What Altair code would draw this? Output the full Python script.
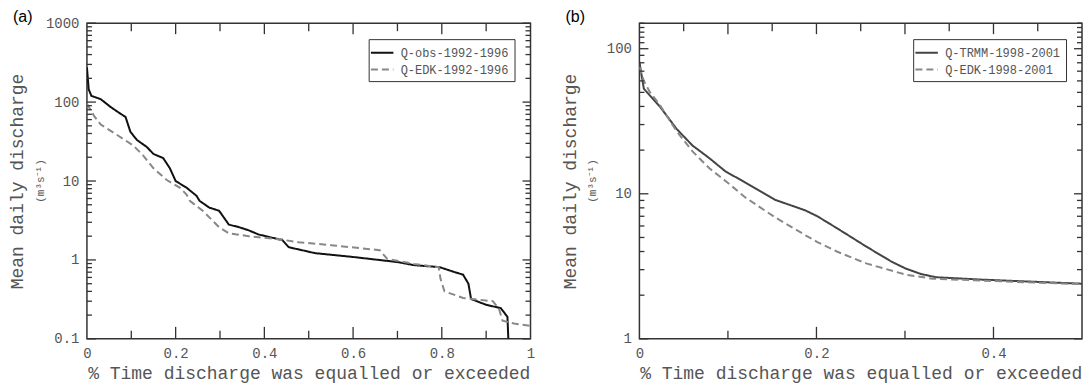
import altair as alt
import pandas as pd

# ---------------- data ----------------
# Panel (a)
a_series = ["Q-obs-1992-1996", "Q-EDK-1992-1996"]
a_obs_x = [0, 0.002, 0.004, 0.01, 0.031, 0.053, 0.076, 0.087, 0.098, 0.113, 0.135, 0.15,
           0.172, 0.187, 0.2, 0.225, 0.247, 0.254, 0.276, 0.298, 0.32, 0.343, 0.365, 0.387,
           0.432, 0.44, 0.455, 0.514, 0.60, 0.70, 0.737, 0.795, 0.826, 0.848, 0.86, 0.866,
           0.9, 0.933, 0.948, 0.95]
a_obs_y = [275, 200, 145, 120, 109, 87, 71, 65, 42, 33, 27, 22,
           19.5, 14.5, 10, 8.2, 6.5, 5.6, 4.6, 4.2, 2.8, 2.6, 2.37, 2.1,
           1.83, 1.8, 1.45, 1.22, 1.09, 0.94, 0.86, 0.81, 0.71, 0.65, 0.50, 0.32,
           0.27, 0.245, 0.19, 0.1]
a_edk_x = [0, 0.004, 0.016, 0.031, 0.069, 0.105, 0.127, 0.15, 0.18, 0.21, 0.225, 0.232,
           0.261, 0.298, 0.32, 0.365, 0.432, 0.477, 0.55, 0.66, 0.677, 0.737, 0.793, 0.797,
           0.806, 0.848, 0.915, 0.929, 0.937, 0.966, 1.0]
a_edk_y = [95, 87, 67, 52, 38, 28, 21, 14.5, 10.3, 8.2, 6.7, 5.6,
           4.2, 2.6, 2.17, 2.0, 1.83, 1.68, 1.54, 1.33, 1.03, 0.89, 0.81, 0.58,
           0.40, 0.33, 0.30, 0.24, 0.17, 0.155, 0.146]

# Panel (b)
b_series = ["Q-TRMM-1998-2001", "Q-EDK-1998-2001"]
b_trmm_x = [0, 0.005, 0.023, 0.042, 0.06, 0.079, 0.097, 0.116, 0.153, 0.187, 0.201, 0.223,
            0.257, 0.285, 0.301, 0.318, 0.335, 0.387, 0.5]
b_trmm_y = [81, 53, 40, 28, 21.5, 17.6, 14.3, 12.3, 9.1, 7.7, 7.0, 5.8,
            4.3, 3.4, 3.05, 2.8, 2.66, 2.56, 2.4]
b_edk_x = [0, 0.005, 0.012, 0.023, 0.042, 0.06, 0.079, 0.097, 0.12, 0.153, 0.187, 0.201,
           0.223, 0.257, 0.301, 0.331, 0.387, 0.5]
b_edk_y = [75, 60, 50, 41, 27, 19.6, 15, 12.3, 9.4, 6.9, 5.2, 4.65,
           4.0, 3.3, 2.77, 2.6, 2.52, 2.38]

# axis labels / ticks
a_xlabels = [0, 0.2, 0.4, 0.6, 0.8, 1]
a_ylabels = [0.1, 1, 10, 100, 1000]
b_xlabels = [0, 0.2, 0.4]
b_ylabels = [1, 10, 100]

a_xtop_long = [0.2, 0.4, 0.6, 0.8]
a_xtop_short = [0.1, 0.3, 0.5, 0.7, 0.9]
a_xbot_long = [0.2, 0.4, 0.6, 0.8]
a_xbot_short = [0.1, 0.3, 0.5, 0.7, 0.9]
b_xtop_long = [0.1, 0.2, 0.3, 0.4]
b_xtop_short = [0.05, 0.15, 0.25, 0.35, 0.45]
b_xbot_long = [0.2, 0.4]
b_xbot_short = [0.1, 0.3]

a_ymajor = [0.1, 1, 10, 100, 1000]
b_ymajor = [1, 10, 100]
minor_mult = [2, 3, 4, 5, 6, 7, 8, 9]
a_yminor = [m * d for d in [0.1, 1, 10, 100] for m in minor_mult]
b_yminor = [m * d for d in [1, 10] for m in minor_mult] + [110, 120, 130, 140, 150]

X_TITLE = "% Time discharge was equalled or exceeded"
Y_TITLE = "Mean daily discharge"
UNITS = "(m\u00b3s\u207b\u00b9)"

FONT = "Liberation Mono"
AXC = "#333333"
TXT = "#555555"
H = 316


def curves_df(series, xs_list, ys_list):
    rows = []
    for s, xs, ys in zip(series, xs_list, ys_list):
        for i, (x, y) in enumerate(zip(xs, ys)):
            rows.append({"series": s, "x": x, "y": y, "i": i})
    return pd.DataFrame(rows)


def panel(label, series, colors, df, xdom, ydom, xlabels, ylabels,
          xtop_long, xtop_short, xbot_long, xbot_short, ymajor, yminor, W):
    xs = alt.Scale(domain=xdom, nice=False, zero=False)
    ys = alt.Scale(type="log", domain=ydom, nice=False)
    xaxis = alt.Axis(
        values=xlabels, format="~g", title=X_TITLE, ticks=False, domain=False,
        grid=False, labelFont=FONT, labelFontSize=14, labelColor=TXT,
        labelPadding=8, labelFlush=False, titleFont=FONT, titleFontSize=18,
        titleFontWeight="normal", titleColor=TXT, titleY=40,
        titleBaseline="alphabetic")
    yaxis = alt.Axis(
        values=ylabels, format="~g", title=Y_TITLE, ticks=False, domain=False,
        grid=False, labelFont=FONT, labelFontSize=14, labelColor=TXT,
        labelPadding=8, labelFlush=False, labelOverlap=False, titleFont=FONT,
        titleFontSize=18, titleFontWeight="normal", titleColor=TXT,
        titleX=-69, titleY=H / 2, titleAngle=270, titleAlign="center",
        titleBaseline="middle")

    def tick_rules(vals, channel, p1, p2):
        tdf = pd.DataFrame({"x": vals, "y": vals})
        base = alt.Chart(tdf).mark_rule(color=AXC, strokeWidth=1.3)
        if channel == "x":
            return base.encode(x=alt.X("x:Q", scale=xs, axis=xaxis),
                               y=alt.value(p1), y2=alt.value(p2))
        return base.encode(y=alt.Y("y:Q", scale=ys, axis=yaxis),
                           x=alt.value(p1), x2=alt.value(p2))

    leg = alt.Legend(title=None, orient="top-right", offset=16, fillColor="white",
                     strokeColor=AXC, padding=5, labelFont=FONT, labelFontSize=12,
                     labelColor=TXT, symbolType="M-1.5,0H1.5", symbolSize=225,
                     symbolStrokeWidth=2, rowPadding=2, labelOffset=10)
    lines = alt.Chart(df).mark_line(clip=True, strokeWidth=2).encode(
        x=alt.X("x:Q", scale=xs, axis=xaxis),
        y=alt.Y("y:Q", scale=ys, axis=yaxis),
        color=alt.Color("series:N", scale=alt.Scale(domain=series, range=colors),
                        legend=leg),
        strokeDash=alt.StrokeDash("series:N",
                                  scale=alt.Scale(domain=series, range=[[1, 0], [7, 4]]),
                                  legend=leg),
        order=alt.Order("i:Q"),
    )
    txt = pd.DataFrame({"t": [label], "u": [UNITS]})
    lab = alt.Chart(txt).mark_text(align="left", baseline="top", font="Liberation Sans",
                                   fontSize=16, color="black").encode(
        x=alt.value(-74), y=alt.value(-14), text="t:N")
    units = alt.Chart(txt).mark_text(angle=270, align="center", baseline="middle",
                                     font=FONT, fontSize=11, color=TXT).encode(
        x=alt.value(-46), y=alt.value(H / 2), text="u:N")
    layers = [
        lines,
        tick_rules(xtop_long, "x", 0, 11),
        tick_rules(xtop_short, "x", 0, 8),
        tick_rules(xbot_long, "x", H, H - 12),
        tick_rules(xbot_short, "x", H, H - 8),
        tick_rules(ymajor, "y", 0, 9),
        tick_rules(yminor, "y", 0, 5),
        tick_rules(ymajor, "y", W, W - 8),
        tick_rules(yminor, "y", W, W - 5),
        lab,
        units,
    ]
    return alt.layer(*layers).properties(width=W, height=H)


df_a = curves_df(a_series, [a_obs_x, a_edk_x], [a_obs_y, a_edk_y])
df_b = curves_df(b_series, [b_trmm_x, b_edk_x], [b_trmm_y, b_edk_y])

pa = panel("(a)", a_series, ["#111111", "#888888"], df_a, [0, 1], [0.1, 1000],
           a_xlabels, a_ylabels, a_xtop_long, a_xtop_short, a_xbot_long, a_xbot_short,
           a_ymajor, a_yminor, 444)
pb = panel("(b)", b_series, ["#444444", "#888888"], df_b, [0, 0.5], [1, 150],
           b_xlabels, b_ylabels, b_xtop_long, b_xtop_short, b_xbot_long, b_xbot_short,
           b_ymajor, b_yminor, 443)

chart = alt.hconcat(pa, pb, spacing=25).resolve_scale(
    x="independent", y="independent", color="independent", strokeDash="independent"
).resolve_legend(color="independent", strokeDash="independent").properties(
    padding={"left": 0, "top": 0, "right": 0, "bottom": 0}
).configure_view(stroke=AXC, strokeWidth=1.5)

chart.save("out.html", embed_options={"renderer": "svg", "actions": False})
